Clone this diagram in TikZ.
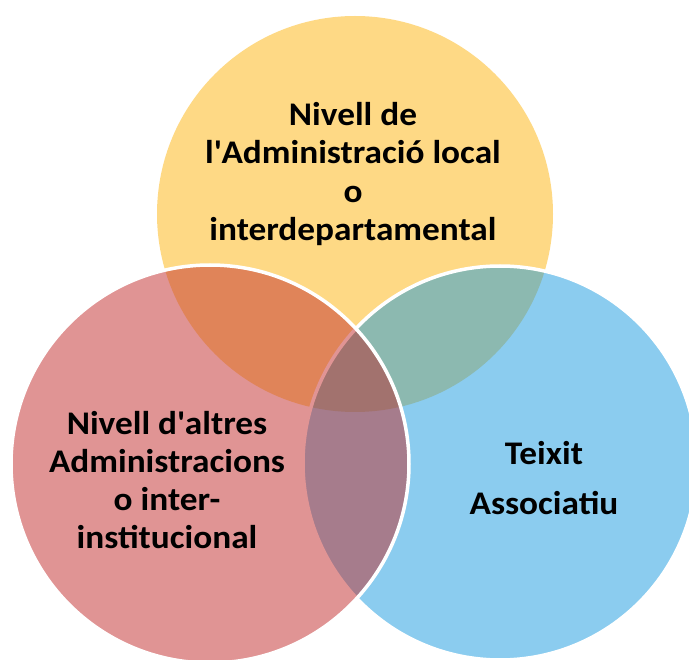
\documentclass[tikz,border=0pt]{standalone}
\usepackage{fontspec}
\setmainfont{Carlito}[FakeStretch=1.07]
\definecolor{yellowC}{HTML}{FED985}
\definecolor{redC}{HTML}{E09494}
\definecolor{blueC}{HTML}{8BCCEF}
\definecolor{orangeC}{HTML}{E08459}
\definecolor{tealC}{HTML}{8CB9B0}
\definecolor{purpleC}{HTML}{A67C8C}
\definecolor{centerC}{HTML}{A2726E}
\tikzset{
  lbl/.style={font=\fontsize{33}{38.2}\selectfont\bfseries, align=center, inner sep=0pt, text=black},
  rim/.style={draw=white, line width=3.5pt}
}
\def\Ycirc{(355,214) circle[radius=198pt]}
\def\Rcirc{(210,464) circle[radius=199pt]}
\def\Bcirc{(500,463) circle[radius=197pt]}
\newcommand{\apos}{\textquotesingle}
\begin{document}
\begin{tikzpicture}[x=1pt,y=-1pt]
\useasboundingbox (0,0) rectangle (689,660);
\clip (0,0) rectangle (689,660);
% yellow
\fill[yellowC] \Ycirc;
% blue
\fill[blueC] \Bcirc;
\begin{scope}
  \clip \Ycirc;
  \fill[tealC] \Bcirc;
\end{scope}
\draw[rim] \Bcirc;
% red
\fill[redC] \Rcirc;
\begin{scope}
  \clip \Ycirc;
  \fill[orangeC] \Rcirc;
\end{scope}
\begin{scope}
  \clip \Bcirc;
  \fill[purpleC] \Rcirc;
\end{scope}
\begin{scope}
  \clip \Ycirc;
  \clip \Bcirc;
  \fill[centerC] \Rcirc;
\end{scope}
\begin{scope}
  \clip \Rcirc;
  \draw[redC, line width=3.5pt] \Bcirc;
\end{scope}
\draw[rim] \Rcirc;
% labels
\node[lbl] (top) at (353,174) {Nivell de\\l\apos Administració local\\o\\interdepartamental};
\node[lbl] (left) at (167,480) {Nivell d\apos altres\\Administracions\\o inter-\\institucional};
\node[lbl] (right) at (544,478) {Teixit\\[11.6pt]Associatiu};
\end{tikzpicture}
\end{document}
